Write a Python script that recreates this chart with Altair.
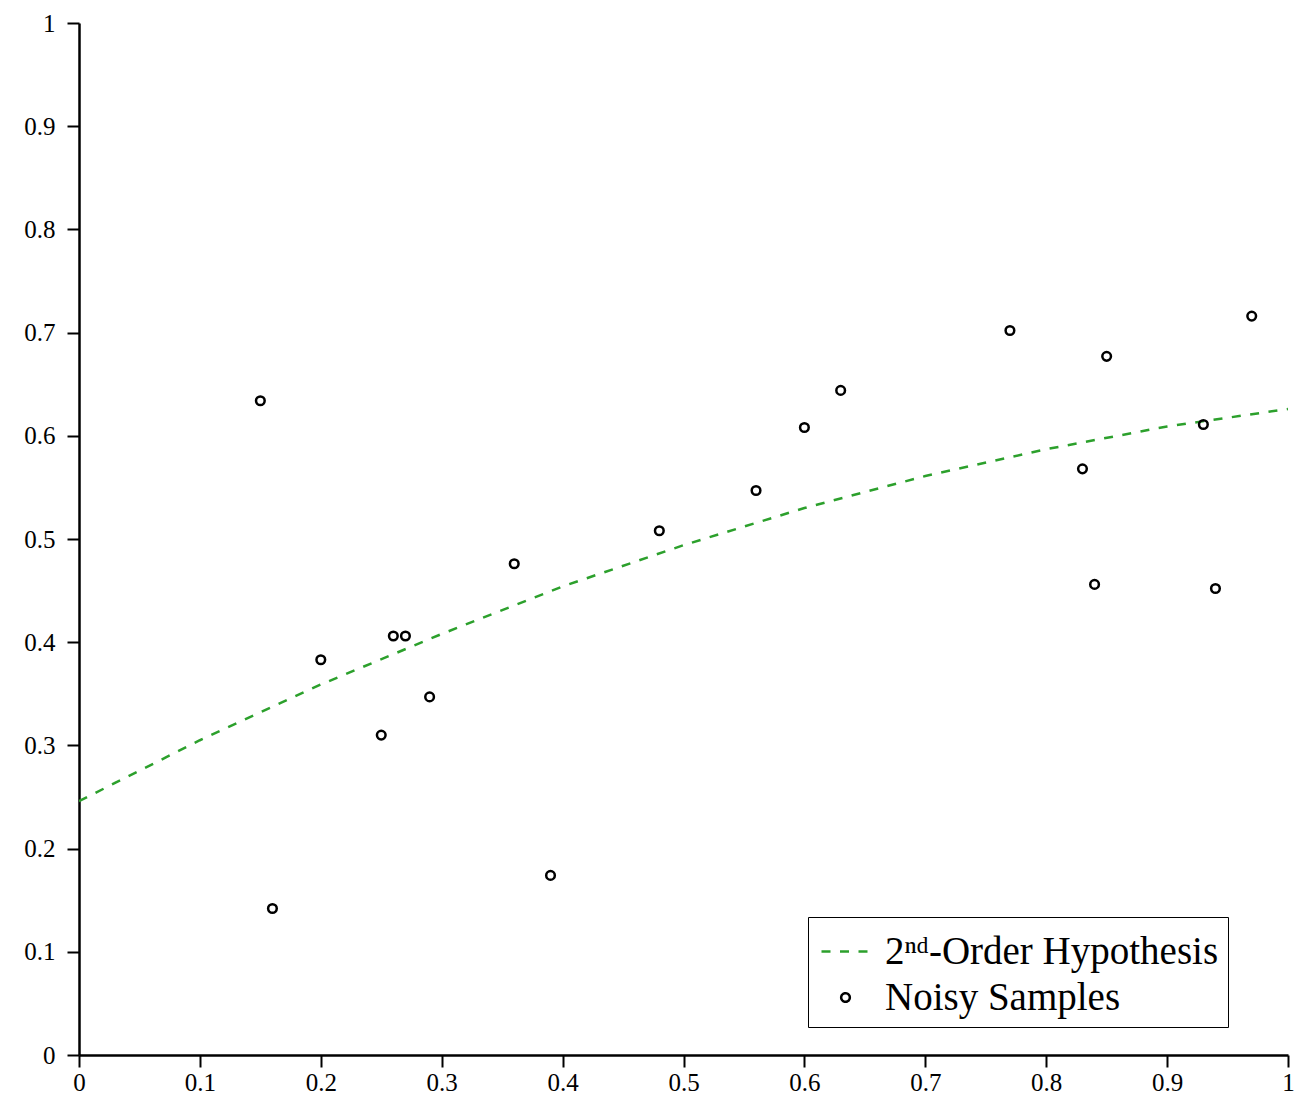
import altair as alt
import pandas as pd

# Noisy samples
sample_x = [0.15, 0.16, 0.20, 0.25, 0.26, 0.27, 0.29, 0.36, 0.39, 0.48,
            0.56, 0.60, 0.63, 0.77, 0.83, 0.84, 0.85, 0.93, 0.94, 0.97]
sample_y = [0.634, 0.142, 0.383, 0.310, 0.406, 0.406, 0.347, 0.476, 0.174, 0.508,
            0.547, 0.608, 0.644, 0.702, 0.568, 0.456, 0.677, 0.611, 0.452, 0.716]

# 2nd-order hypothesis curve
curve_x = [0.0, 0.1, 0.2, 0.3, 0.4, 0.5, 0.6, 0.7, 0.8, 0.9, 1.0]
curve_y = [0.246, 0.305, 0.359, 0.408, 0.454, 0.494, 0.530, 0.561, 0.587, 0.609, 0.626]

tick_vals = [0, 0.1, 0.2, 0.3, 0.4, 0.5, 0.6, 0.7, 0.8, 0.9, 1]

HYP = "2\u207f\u1d48-Order Hypothesis"
NOISY = "Noisy Samples"
series_domain = [HYP, NOISY]

curve_df = pd.DataFrame({"x": curve_x, "y": curve_y, "series": HYP})
sample_df = pd.DataFrame({"x": sample_x, "y": sample_y, "series": NOISY})

FONT = "Liberation Serif"
SYM = 2304  # sqrt -> 48 px legend stroke
r = 0.18
circle_path = f"M{r},0 A{r},{r} 0 1,1 {-r},0 A{r},{r} 0 1,1 {r},0 Z"

xenc = alt.X("x:Q", scale=alt.Scale(domain=[0, 1], nice=False, zero=False),
             axis=alt.Axis(values=tick_vals, title=None, grid=False, labelFlush=False,
                           labelExpr="format(datum.value, '.1~f')"))
yenc = alt.Y("y:Q", scale=alt.Scale(domain=[0, 1], nice=False, zero=False),
             axis=alt.Axis(values=tick_vals, title=None, grid=False, labelFlush=False,
                           labelExpr="format(datum.value, '.1~f')"))

color = alt.Color("series:N",
                  scale=alt.Scale(domain=series_domain, range=["#2ca02c", "#000000"]),
                  legend=alt.Legend(title=None, orient="none", legendX=729, legendY=894,
                                    labelFont=FONT, labelFontSize=39, labelColor="black",
                                    symbolSize=SYM, symbolStrokeWidth=2.5,
                                    symbolFillColor="transparent", symbolOffset=3,
                                    labelOffset=14, rowPadding=0, padding=9,
                                    strokeColor="black", fillColor="white",
                                    cornerRadius=0, labelLimit=0))

line = alt.Chart(curve_df).mark_line(strokeWidth=2.5, clip=True).encode(
    x=xenc, y=yenc, color=color,
    strokeDash=alt.StrokeDash("series:N",
                              scale=alt.Scale(domain=series_domain, range=[[9, 9.5], [1, 0]]),
                              legend=None),
)

points = alt.Chart(sample_df).mark_point(filled=False, strokeWidth=2.5, size=SYM, opacity=1).encode(
    x=xenc, y=yenc, color=color,
    shape=alt.Shape("series:N",
                    scale=alt.Scale(domain=series_domain, range=["stroke", circle_path]),
                    legend=None),
)

chart = alt.layer(line, points).properties(
    width=1209, height=1032,
    autosize=alt.AutoSizeParams(type="none"),
    padding={"left": 71, "top": 15, "right": 12, "bottom": 41},
).configure_view(stroke=None).configure_axis(
    labelFont=FONT, labelFontSize=25, labelColor="black",
    domainColor="black", domainWidth=2.5, tickColor="black", tickWidth=2,
    tickSize=12,
).configure_axisX(labelPadding=3.5).configure_axisY(labelPadding=12)

chart.save("out.html", embed_options={"renderer": "svg", "actions": False})
